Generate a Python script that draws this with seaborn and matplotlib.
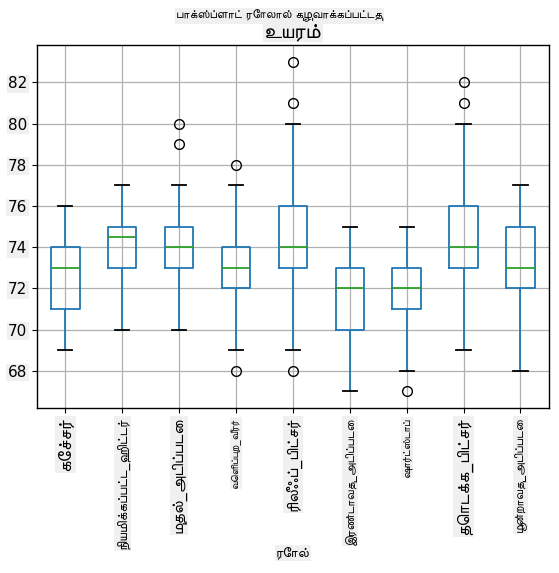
import numpy as np
import pandas as pd
import matplotlib
matplotlib.use("Agg")
import matplotlib.pyplot as plt
import seaborn as sns

roles = ["கேச்சர்", "நியமிக்கப்பட்ட_ஹிட்டர்", "முதல்_அடிப்படை", "வெளிப்புற_வீரர்",
         "ரிலீஃப்_பிட்சர்", "இரண்டாவது_அடிப்படை", "ஷார்ட்ஸ்டாப்", "தொடக்க_பிட்சர்",
         "மூன்றாவது_அடிப்படை"]

catcher = [69, 70, 71, 72, 73, 73, 74, 75, 76]
designated_hitter = [70, 72, 73, 73, 74, 75, 75, 75, 76, 77]
first_base = [70, 72, 73, 73, 73, 74, 74, 74, 75, 75, 77, 79, 80]
outfielder = [68, 69, 71, 72, 72, 73, 73, 73, 74, 74, 76, 77, 78]
relief_pitcher = [68, 69, 71, 72, 73, 73, 73, 74, 74, 74, 75, 76, 76, 77, 80, 81, 83]
second_base = [67, 69, 70, 71, 72, 72, 73, 74, 75]
shortstop = [67, 68, 71, 71, 72, 72, 73, 74, 75]
starting_pitcher = [69, 71, 72, 73, 73, 74, 74, 75, 75, 76, 80, 81, 82]
third_base = [68, 70, 72, 72, 73, 74, 75, 76, 77]

groups = [catcher, designated_hitter, first_base, outfielder, relief_pitcher,
          second_base, shortstop, starting_pitcher, third_base]

df = pd.DataFrame({
    "Role": [r for r, g in zip(roles, groups) for _ in g],
    "Height": [v for g in groups for v in g],
})

plt.rcParams['font.family'] = ['DejaVu Sans', 'FreeSans']

fig = plt.figure(figsize=(5.59, 5.73), dpi=100)
ax = fig.add_axes([0.066, 0.288, 0.916, 0.633])

blue = "#1f77b4"
sns.boxplot(data=df, x="Role", y="Height", order=roles, ax=ax, fill=False,
            width=0.5, whis=1.5, linewidth=1.3,
            boxprops=dict(color=blue),
            whiskerprops=dict(color=blue),
            capprops=dict(color="black"),
            medianprops=dict(color="#2ca02c"),
            flierprops=dict(marker="o", markerfacecolor="none",
                            markeredgecolor="black", markersize=7))

ax.grid(True, color="#b0b0b0", linewidth=0.9)
ax.set_axisbelow(True)
for s in ax.spines.values():
    s.set_color("black")
    s.set_linewidth(1.0)

ax.set_yticks([68, 70, 72, 74, 76, 78, 80, 82])
lab_bbox = dict(facecolor="#f0f0f0", edgecolor="none", pad=1)
ax.tick_params(axis="y", labelsize=11)
for t in ax.get_yticklabels():
    t.set_bbox(lab_bbox)
ax.set_xticks(range(len(roles)))
ax.set_xticklabels(roles, rotation=90)
label_sizes = [13, 9.8, 11.5, 7.5, 11.5, 8.8, 7.8, 12.5, 8.8]
for t, fs in zip(ax.get_xticklabels(), label_sizes):
    t.set_bbox(lab_bbox)
    t.set_fontsize(fs)

ax.set_xlabel("ரோல்", fontsize=10, bbox=lab_bbox, va="center")
ax.xaxis.set_label_coords(0.5, -0.40)
ax.set_ylabel("")
ax.set_title("உயரம்", fontsize=15, bbox=lab_bbox, pad=6)
fig.suptitle("பாக்ஸ்ப்ளாட் ரோலால் குழுவாக்கப்பட்டது", fontsize=8.8, y=0.984,
             bbox=lab_bbox)

fig.savefig("out.png", dpi=100, facecolor="white")
